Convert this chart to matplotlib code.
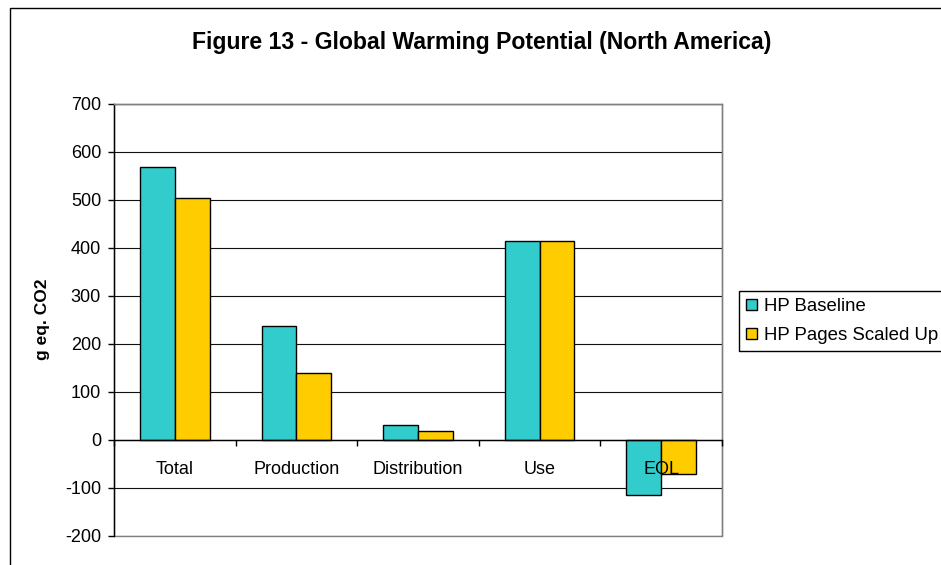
import numpy as np
import matplotlib
matplotlib.use("Agg")
import matplotlib.pyplot as plt
from matplotlib.patches import Rectangle

plt.rcParams["font.family"] = ["Liberation Sans", "DejaVu Sans"]
plt.rcParams["axes.unicode_minus"] = False

categories = ["Total", "Production", "Distribution", "Use", "EOL"]
series_names = ["HP Baseline", "HP Pages Scaled Up"]
hp_baseline = [569, 236, 30, 415, -115]
hp_scaled_up = [504, 139, 18, 415, -71]
y_ticks = [-200, -100, 0, 100, 200, 300, 400, 500, 600, 700]

teal = "#33CCCC"
gold = "#FFCC00"

fig = plt.figure(figsize=(9.41, 5.65), dpi=100)
fig.patch.set_facecolor("white")

# chart border (runs off the right and bottom of the image)
fig.add_artist(Rectangle((9.5 / 941, -0.5), 2.0, 0.5 + (565 - 8) / 565,
                         transform=fig.transFigure, fill=False,
                         edgecolor="black", linewidth=1.0))

ax = fig.add_axes([114 / 941, 29.5 / 565, 608 / 941, 431.5 / 565])

x = np.arange(len(categories))
w = 1 / 3.5
ax.bar(x - w / 2, hp_baseline, w, color=teal, edgecolor="black",
       linewidth=1.0, label=series_names[0], zorder=3)
ax.bar(x + w / 2, hp_scaled_up, w, color=gold, edgecolor="black",
       linewidth=1.0, label=series_names[1], zorder=3)

ax.set_xlim(-0.5, len(categories) - 0.5)
ax.set_ylim(y_ticks[0], y_ticks[-1])
ax.set_yticks(y_ticks)
ax.yaxis.grid(True, color="#111111", linewidth=0.8)
# gridlines behind the bars, category labels in front of them
ax.yaxis.set_zorder(0.5)
ax.xaxis.set_zorder(5)

# plot area frame
ax.patch.set_edgecolor("#808080")
ax.patch.set_linewidth(1.0)
for side in ("top", "right"):
    ax.spines[side].set_color("#808080")
    ax.spines[side].set_linewidth(1.0)
ax.spines["left"].set_color("black")
ax.spines["left"].set_linewidth(1.0)
ax.spines["bottom"].set_position(("data", 0))
ax.spines["bottom"].set_color("black")
ax.spines["bottom"].set_linewidth(1.0)
ax.spines["bottom"].set_zorder(4)

ax.set_xticks(x, categories)
ax.set_xticks(np.arange(len(categories) + 1) - 0.5, minor=True)
ax.tick_params(axis="x", which="major", length=0, pad=15.5, labelsize=13)
ax.tick_params(axis="x", which="minor", length=4, width=1.0, direction="out")
ax.tick_params(axis="y", length=4.3, width=1.0, pad=5, labelsize=13)

ax.set_ylabel("g eq. CO2", fontsize=12.5, fontweight="bold", labelpad=11)

fig.text(482 / 941, (565 - 43) / 565,
         "Figure 13 - Global Warming Potential (North America)",
         ha="center", va="center", fontsize=16.6, fontweight="bold")

leg = ax.legend(loc="upper left", bbox_to_anchor=(739 / 941, (565 - 291) / 565),
                bbox_transform=fig.transFigure, fontsize=13.4, frameon=True,
                fancybox=False, edgecolor="black", framealpha=1,
                handlelength=0.55, handleheight=0.55, handletextpad=0.4,
                labelspacing=0.62, borderpad=0.4, borderaxespad=0)
leg.get_frame().set_linewidth(1.0)

fig.savefig("out.png", dpi=100)
